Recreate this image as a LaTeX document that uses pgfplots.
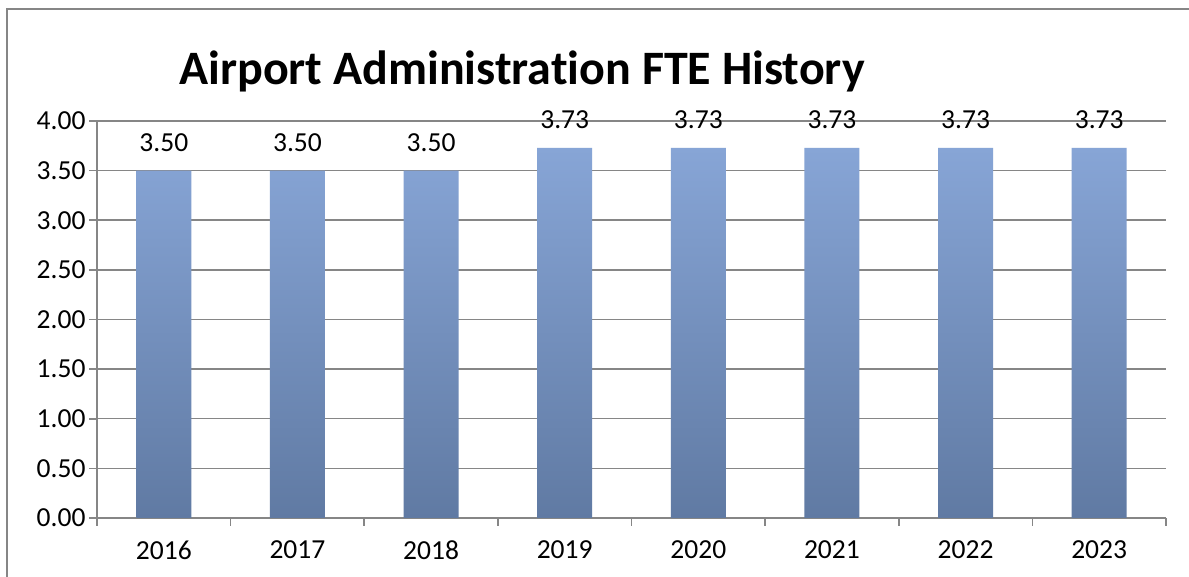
\documentclass[border=0pt]{standalone}
\usepackage{fontspec}
\setmainfont[Ligatures=NoCommon]{Carlito}
\usepackage{pgfplots}
\pgfplotsset{compat=1.18}
\definecolor{barTop}{RGB}{135,165,214}
\definecolor{barBot}{RGB}{96,122,163}
\definecolor{gridc}{RGB}{134,134,134}
\begin{document}
\begin{tikzpicture}
\useasboundingbox (0,0) rectangle (1189bp,577bp);
\fill[white] (0,0) rectangle (1189bp,577bp);
\draw[gridc, line width=2bp] (7bp,-10bp) -- (7bp,568bp) -- (1200bp,568bp);
\node[anchor=base, inner sep=0pt, font=\fontsize{48bp}{56bp}\selectfont\bfseries] at (522bp,492bp) {Airport Administration FTE History};
\begin{axis}[
  at={(97bp,59bp)}, anchor=south west, scale only axis,
  width=1069bp, height=397bp,
  xmin=-0.5, xmax=7.5, ymin=0, ymax=4,
  ybar, bar width=55bp,
  axis x line*=bottom, axis y line*=left,
  axis line style={gridc, line width=2.2bp, -},
  tick align=outside, major tick length=8bp,
  tick style={gridc, line width=1.6bp},
  ymajorgrids, grid style={gridc, line width=1.5bp},
  ytick={0,0.5,1,1.5,2,2.5,3,3.5,4},
  yticklabel style={/pgf/number format/.cd, fixed, fixed zerofill, precision=2},
  /pgf/number format/assume math mode=true,
  xtick={-0.5,0.5,1.5,2.5,3.5,4.5,5.5,6.5,7.5},
  xticklabels={2016,2017,2018,2019,2020,2021,2022,2023,{}},
  xticklabel style={xshift=66.8bp, yshift=-11bp},
  ticklabel style={font=\fontsize{27.5bp}{32bp}\selectfont, text=black},
  nodes near coords={\pgfmathprintnumber[fixed,fixed zerofill,precision=2,assume math mode=true]{\pgfplotspointmeta}},
  every node near coord/.append style={font=\fontsize{27.5bp}{32bp}\selectfont, text=black, anchor=base, yshift=19bp},
]
\addplot[draw=none, top color=barTop, bottom color=barBot] coordinates {
  (0,3.50) (1,3.50) (2,3.50) (3,3.73) (4,3.73) (5,3.73) (6,3.73) (7,3.73)
};
\end{axis}
\end{tikzpicture}
\end{document}
